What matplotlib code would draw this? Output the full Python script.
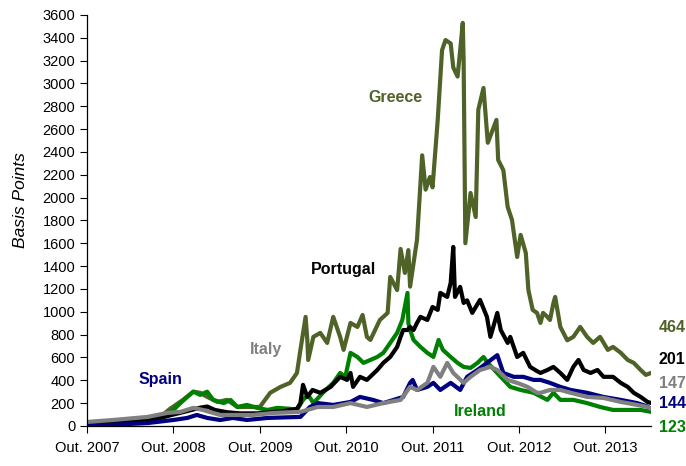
import matplotlib
matplotlib.use('Agg')
import matplotlib.pyplot as plt

plt.rcParams['font.family'] = ['Liberation Sans', 'DejaVu Sans']

# time in decimal years, spreads in basis points
greece_t = [2007.75, 2007.90, 2008.05, 2008.25, 2008.45, 2008.60, 2008.71, 2008.75, 2008.86, 2008.98,
            2009.06, 2009.14, 2009.26, 2009.37, 2009.49, 2009.64, 2009.75, 2009.87, 2009.99, 2010.10,
            2010.18, 2010.22, 2010.28, 2010.30, 2010.31, 2010.37, 2010.45, 2010.53, 2010.60, 2010.68,
            2010.72, 2010.80, 2010.88, 2010.94, 2010.99, 2011.03, 2011.14, 2011.23, 2011.26, 2011.34,
            2011.38, 2011.43, 2011.47, 2011.49, 2011.57, 2011.63, 2011.67, 2011.72, 2011.75, 2011.81,
            2011.86, 2011.90, 2011.96, 2011.99, 2012.04, 2012.07, 2012.10, 2012.11, 2012.13, 2012.19,
            2012.25, 2012.28, 2012.34, 2012.39, 2012.49, 2012.51, 2012.57, 2012.62, 2012.67, 2012.73,
            2012.77, 2012.83, 2012.86, 2012.91, 2012.96, 2013.00, 2013.03, 2013.08, 2013.11, 2013.15,
            2013.17, 2013.23, 2013.31, 2013.38, 2013.46, 2013.54, 2013.61, 2013.69, 2013.78, 2013.84,
            2013.93, 2014.01, 2014.08, 2014.16, 2014.22, 2014.28]
greece_bp = [30, 35, 40, 50, 60, 80, 150, 170, 228, 300,
             290, 255, 210, 228, 166, 166, 166, 290, 342, 377,
             464, 666, 955, 753, 578, 780, 815, 727, 955, 780,
             666, 902, 867, 972, 780, 753, 928, 990, 1305, 1190,
             1550, 1340, 1540, 1220, 1630, 2370, 2070, 2180, 2090, 2680,
             3290, 3380, 3350, 3140, 3060, 3290, 3530, 3200, 1600, 2040,
             1830, 2770, 2960, 2480, 2680, 2330, 2240, 1918, 1805, 1480,
             1673, 1515, 1190, 1016, 990, 902, 990, 955, 928, 1077,
             1130, 867, 750, 780, 867, 780, 727, 780, 666, 692,
             640, 578, 552, 490, 447, 464]

portugal_t = [2007.75, 2008.05, 2008.36, 2008.60, 2008.75, 2008.91, 2009.06, 2009.14, 2009.23, 2009.37,
              2009.52, 2009.72, 2009.87, 2010.02, 2010.18, 2010.22, 2010.25, 2010.30, 2010.36, 2010.45,
              2010.57, 2010.68, 2010.76, 2010.80, 2010.83, 2010.91, 2010.99, 2011.11, 2011.18, 2011.26,
              2011.34, 2011.38, 2011.41, 2011.46, 2011.49, 2011.53, 2011.57, 2011.61, 2011.69, 2011.75,
              2011.81, 2011.84, 2011.92, 2011.96, 2011.99, 2012.01, 2012.07, 2012.11, 2012.15, 2012.21,
              2012.30, 2012.38, 2012.42, 2012.50, 2012.54, 2012.62, 2012.65, 2012.73, 2012.80, 2012.88,
              2012.96, 2013.00, 2013.08, 2013.15, 2013.23, 2013.31, 2013.38, 2013.44, 2013.50, 2013.58,
              2013.66, 2013.73, 2013.84, 2013.93, 2014.01, 2014.08, 2014.16, 2014.24, 2014.28]
portugal_bp = [25, 35, 50, 70, 100, 130, 160, 170, 140, 120,
               110, 110, 120, 130, 150, 200, 360, 254, 315, 290,
               342, 430, 403, 464, 342, 430, 403, 490, 552, 604,
               692, 780, 840, 840, 867, 840, 902, 955, 928, 1042,
               1016, 1165, 1130, 1253, 1568, 1130, 1218, 1077, 1100, 990,
               1104, 955, 780, 990, 840, 727, 780, 604, 640, 517,
               480, 464, 490, 517, 464, 403, 517, 578, 490, 464,
               490, 430, 430, 377, 342, 290, 254, 210, 201]

ireland_t = [2007.75, 2008.05, 2008.45, 2008.63, 2008.75, 2008.83, 2008.91, 2008.98, 2009.06, 2009.14,
             2009.21, 2009.33, 2009.41, 2009.49, 2009.60, 2009.72, 2009.84, 2009.95, 2010.10, 2010.18,
             2010.25, 2010.31, 2010.37, 2010.48, 2010.60, 2010.68, 2010.74, 2010.80, 2010.88, 2010.95,
             2011.03, 2011.11, 2011.18, 2011.26, 2011.34, 2011.40, 2011.46, 2011.47, 2011.49, 2011.53,
             2011.61, 2011.69, 2011.76, 2011.82, 2011.87, 2011.96, 2012.04, 2012.11, 2012.19, 2012.27,
             2012.34, 2012.39, 2012.54, 2012.65, 2012.77, 2012.92, 2013.08, 2013.15, 2013.23, 2013.38,
             2013.54, 2013.69, 2013.84, 2014.01, 2014.16, 2014.28]
ireland_bp = [10, 35, 52, 79, 140, 200, 254, 300, 272, 300,
              228, 200, 228, 166, 184, 158, 140, 158, 150, 140,
              228, 272, 200, 290, 377, 464, 430, 640, 604, 552,
              578, 604, 640, 727, 815, 928, 1165, 900, 840, 753,
              692, 640, 604, 753, 666, 604, 552, 517, 508, 552,
              604, 552, 430, 342, 315, 290, 228, 290, 228, 228,
              200, 166, 140, 140, 140, 123]

spain_t = [2007.75, 2008.05, 2008.45, 2008.75, 2008.91, 2009.02, 2009.14, 2009.29, 2009.44, 2009.60,
           2009.84, 2010.22, 2010.33, 2010.42, 2010.60, 2010.80, 2010.91, 2011.06, 2011.18, 2011.30,
           2011.41, 2011.49, 2011.52, 2011.57, 2011.69, 2011.76, 2011.84, 2011.96, 2012.07, 2012.15,
           2012.27, 2012.38, 2012.50, 2012.57, 2012.69, 2012.80, 2012.92, 2013.00, 2013.11, 2013.23,
           2013.35, 2013.54, 2013.73, 2013.93, 2014.12, 2014.24, 2014.28]
spain_bp = [5, 10, 25, 52, 70, 96, 70, 52, 70, 52,
            70, 79, 166, 200, 184, 210, 254, 228, 200, 228,
            254, 377, 403, 315, 342, 377, 315, 377, 315, 430,
            490, 552, 620, 464, 430, 430, 403, 403, 377, 342,
            315, 290, 254, 228, 200, 170, 144]

italy_t = [2007.75, 2008.05, 2008.17, 2008.45, 2008.68, 2008.83, 2008.98, 2009.09, 2009.29, 2009.49,
           2009.67, 2009.91, 2010.22, 2010.42, 2010.60, 2010.80, 2010.99, 2011.18, 2011.38, 2011.49,
           2011.57, 2011.69, 2011.76, 2011.84, 2011.92, 2011.99, 2012.11, 2012.19, 2012.30, 2012.42,
           2012.50, 2012.62, 2012.73, 2012.85, 2012.96, 2013.00, 2013.11, 2013.23, 2013.35, 2013.54,
           2013.73, 2013.93, 2014.12, 2014.24, 2014.28]
italy_bp = [35, 52, 60, 79, 114, 123, 158, 140, 96, 96,
            96, 114, 123, 166, 166, 200, 166, 200, 228, 342,
            315, 377, 517, 430, 552, 464, 377, 430, 490, 517,
            490, 403, 377, 342, 290, 290, 315, 315, 290, 254,
            245, 210, 184, 166, 147]

tick_years = [2007.75, 2008.75, 2009.75, 2010.75, 2011.75, 2012.75, 2013.75]
tick_labels = ['Out. 2007', 'Out. 2008', 'Out. 2009', 'Out. 2010', 'Out. 2011', 'Out. 2012', 'Out. 2013']

c_greece = '#4f6228'
c_portugal = '#000000'
c_ireland = '#008000'
c_spain = '#000080'
c_italy = '#808080'

fig = plt.figure(figsize=(6.86, 4.66), dpi=100)
ax = fig.add_axes([0.127, 0.086, 0.822, 0.882])

lw = 3.0
ax.plot(greece_t, greece_bp, color=c_greece, lw=lw, solid_joinstyle='round')
ax.plot(ireland_t, ireland_bp, color=c_ireland, lw=lw, solid_joinstyle='round')
ax.plot(portugal_t, portugal_bp, color=c_portugal, lw=lw, solid_joinstyle='round')
ax.plot(spain_t, spain_bp, color=c_spain, lw=lw, solid_joinstyle='round')
ax.plot(italy_t, italy_bp, color=c_italy, lw=lw, solid_joinstyle='round')

ax.set_xlim(2007.75, 2014.28)
ax.set_ylim(0, 3600)
ax.set_yticks(range(0, 3601, 200))
ax.set_xticks(tick_years)
ax.set_xticklabels(tick_labels)
ax.tick_params(axis='both', labelsize=10.5, length=5, width=0.8, direction='out')
ax.tick_params(axis='x', pad=6)
for s in ['top', 'right']:
    ax.spines[s].set_visible(False)
for s in ['left', 'bottom']:
    ax.spines[s].set_linewidth(0.9)

ax.set_ylabel('Basis Points', fontsize=12.5, style='italic')
ax.yaxis.set_label_coords(-0.105, 0.55)

# series names
lbl = dict(fontsize=11.5, fontweight='bold', ha='center', va='center')
ax.text(2011.32, 2880, 'Greece', color=c_greece, **lbl)
ax.text(2010.72, 1366, 'Portugal', color=c_portugal, **lbl)
ax.text(2009.82, 666, 'Italy', color=c_italy, **lbl)
ax.text(2008.60, 410, 'Spain', color=c_spain, **lbl)
ax.text(2012.30, 125, 'Ireland', color=c_ireland, **lbl)

# last values on the right
last = dict(fontsize=11.5, fontweight='bold', ha='left', va='center', clip_on=False)
ax.text(2014.37, 860, '464', color=c_greece, **last)
ax.text(2014.37, 580, '201', color=c_portugal, **last)
ax.text(2014.37, 375, '147', color=c_italy, **last)
ax.text(2014.37, 195, '144', color=c_spain, **last)
ax.text(2014.37, -10, '123', color=c_ireland, **last)

fig.savefig('out.png', dpi=100)
